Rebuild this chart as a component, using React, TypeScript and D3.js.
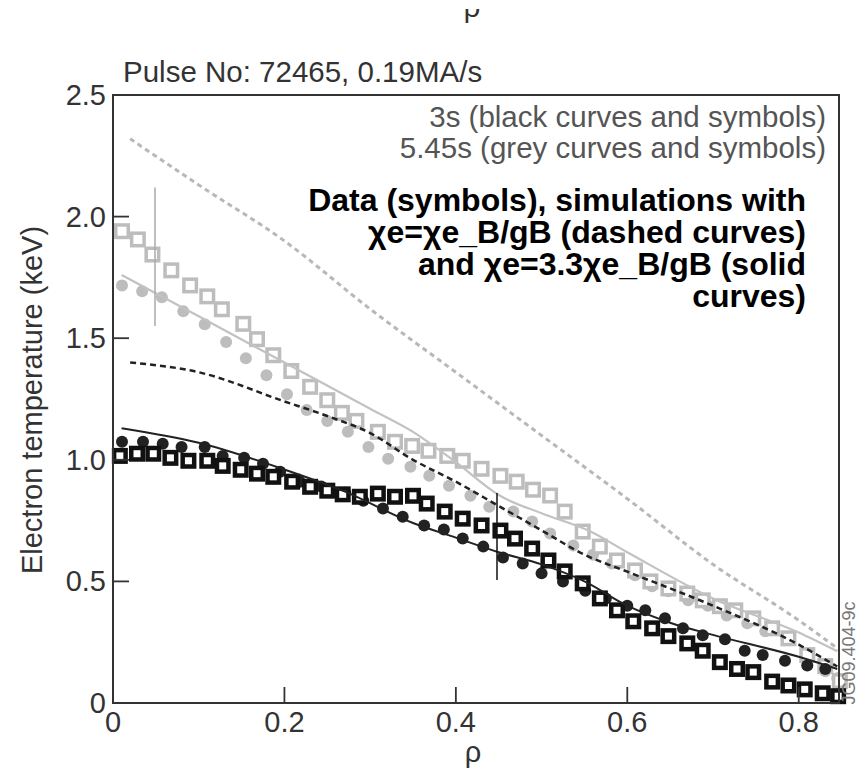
import React from "react";
import * as d3 from "d3";

// ---- data ----
const xTicks = [0, 0.2, 0.4, 0.6, 0.8];
const yTicks = [0, 0.5, 1.0, 1.5, 2.0, 2.5];
const yTickLabels = ["0", "0.5", "1.0", "1.5", "2.0", "2.5"];

// 5.45 s data, open squares (grey)
const greySqRho = [0.0105,0.029,0.046,0.068,0.09,0.11,0.127,0.152,0.168,0.187,0.208,0.23,0.25,0.267,0.284,0.309,0.329,0.349,0.368,0.39,0.408,0.43,0.452,0.471,0.49,0.51,0.527,0.548,0.568,0.588,0.609,0.627,0.648,0.67,0.688,0.708,0.726,0.747,0.769,0.788,0.81,0.831,0.848];
const greySqTe = [1.94,1.906,1.844,1.779,1.717,1.672,1.619,1.559,1.496,1.43,1.365,1.30,1.245,1.193,1.16,1.115,1.074,1.057,1.037,1.016,0.996,0.963,0.934,0.91,0.877,0.853,0.787,0.705,0.643,0.586,0.545,0.5,0.471,0.45,0.422,0.398,0.381,0.348,0.307,0.266,0.197,0.152,0.09];

// 5.45 s data, filled circles (grey)
const greyCiRho = [0.0105,0.034,0.057,0.082,0.107,0.132,0.155,0.179,0.203,0.226,0.25,0.274,0.298,0.321,0.347,0.369,0.392,0.417,0.439,0.467,0.489,0.51,0.537,0.56,0.582,0.609,0.629,0.648,0.671,0.694,0.716,0.74,0.761,0.786,0.81,0.831,0.845];
const greyCiTe = [1.717,1.693,1.668,1.611,1.557,1.484,1.418,1.348,1.27,1.205,1.16,1.115,1.053,1.004,0.971,0.934,0.893,0.852,0.807,0.787,0.746,0.697,0.648,0.61,0.574,0.525,0.48,0.459,0.422,0.40,0.36,0.328,0.295,0.266,0.156,0.131,0.102];

// 3 s data, open squares (black)
const blackSqRho = [0.008,0.028,0.047,0.067,0.088,0.11,0.128,0.149,0.168,0.187,0.209,0.23,0.25,0.268,0.288,0.309,0.329,0.35,0.366,0.387,0.408,0.43,0.452,0.469,0.489,0.508,0.527,0.548,0.568,0.588,0.607,0.629,0.648,0.67,0.688,0.708,0.728,0.747,0.769,0.788,0.807,0.828,0.846];
const blackSqTe = [1.016,1.025,1.025,1.008,0.996,0.996,0.975,0.959,0.943,0.93,0.91,0.889,0.873,0.858,0.848,0.861,0.848,0.852,0.82,0.787,0.758,0.73,0.709,0.676,0.635,0.586,0.541,0.492,0.43,0.381,0.336,0.307,0.275,0.245,0.215,0.168,0.14,0.127,0.088,0.072,0.056,0.04,0.028];

// 3 s data, filled circles (black)
const blackCiRho = [0.0105,0.035,0.058,0.08,0.107,0.128,0.153,0.175,0.195,0.218,0.243,0.271,0.292,0.315,0.338,0.363,0.386,0.408,0.432,0.455,0.478,0.5,0.525,0.551,0.575,0.6,0.621,0.644,0.665,0.688,0.714,0.737,0.758,0.784,0.81,0.831];
const blackCiTe = [1.074,1.074,1.066,1.053,1.053,1.016,1.008,0.984,0.951,0.91,0.89,0.865,0.832,0.80,0.766,0.73,0.713,0.676,0.643,0.598,0.574,0.533,0.50,0.462,0.43,0.40,0.381,0.348,0.307,0.279,0.262,0.215,0.197,0.174,0.154,0.14];

// simulations
const greyDashRho = [0.02,0.1,0.2,0.3,0.4,0.5,0.6,0.7,0.8,0.847];
const greyDashTe = [2.32,2.13,1.90,1.62,1.36,1.10,0.84,0.57,0.34,0.22];
const blackDashRho = [0.02,0.1,0.2,0.25,0.3,0.35,0.4,0.45,0.5,0.55,0.6,0.7,0.8,0.845];
const blackDashTe = [1.40,1.36,1.24,1.18,1.11,1.00,0.91,0.81,0.71,0.61,0.54,0.40,0.24,0.15];
const greySolidRho = [0.01,0.1,0.2,0.3,0.35,0.4,0.45,0.5,0.557,0.6,0.7,0.8,0.845];
const greySolidTe = [1.76,1.59,1.40,1.21,1.115,0.99,0.855,0.78,0.705,0.62,0.43,0.29,0.213];
const blackSolidRho = [0.01,0.1,0.2,0.27,0.35,0.4,0.45,0.5,0.55,0.6,0.65,0.7,0.8,0.845];
const blackSolidTe = [1.13,1.07,0.96,0.87,0.74,0.68,0.62,0.57,0.50,0.40,0.33,0.28,0.19,0.14];

// error bars [rho, low, high]
const greyErr = [0.049, 1.55, 2.12];
const blackErr = [0.448, 0.506, 0.864];

const FONT = "'Liberation Sans', Arial, Helvetica, sans-serif";
const GREY = "#bdbdbd";
const BLACK = "#111111";

export default function App() {
  const W = 858, H = 772;
  const x = d3.scaleLinear().domain([0, 0.847]).range([113, 839]);
  const y = d3.scaleLinear().domain([0, 2.5]).range([703, 95]);
  const zip = (a: number[], b: number[]) => a.map((v, i) => [v, b[i]] as [number, number]);
  const line = d3.line<[number, number]>().x(d => x(d[0])).y(d => y(d[1])).curve(d3.curveMonotoneX);

  const sq = (rho: number[], te: number[], color: string, sw: number, key: string) => {
    const s = 16 - sw;
    return zip(rho, te).map((d, i) => (
      <rect key={key + i} x={x(d[0]) - s / 2} y={y(d[1]) - s / 2} width={s} height={s}
        fill="#fff" stroke={color} strokeWidth={sw} />
    ));
  };
  const ci = (rho: number[], te: number[], color: string, r: number, key: string) =>
    zip(rho, te).map((d, i) => <circle key={key + i} cx={x(d[0])} cy={y(d[1])} r={r} fill={color} />);

  const left = x(0), right = x(0.847), top = y(2.5), bottom = y(0);

  return (
    <svg width={W} height={H} style={{ position: "absolute", left: 0, top: 0, background: "#fff" }}
      fontFamily={FONT}>
      <defs>
        <clipPath id="topclip"><rect x={0} y={9} width={W} height={H} /></clipPath>
      </defs>
      <rect x={0} y={0} width={W} height={H} fill="#fff" />
      <g clipPath="url(#topclip)">
        <text x={472} y={17} fontSize={29} textAnchor="middle" fill="#333">ρ</text>
      </g>

      <text x={123} y={82} fontSize={29.5} fill="#333">Pulse No: 72465, 0.19MA/s</text>

      {/* symbols */}
      {ci(greyCiRho, greyCiTe, GREY, 6, "gc")}
      {sq(greySqRho, greySqTe, GREY, 3.5, "gs")}
      {ci(blackCiRho, blackCiTe, "#222", 6, "bc")}
      {sq(blackSqRho, blackSqTe, BLACK, 4.5, "bs")}

      {/* simulation curves */}
      <path d={line(zip(greyDashRho, greyDashTe)) || ""} fill="none" stroke="#b8b8b8" strokeWidth={3} strokeDasharray="5 4" />
      <path d={line(zip(greySolidRho, greySolidTe)) || ""} fill="none" stroke="#c2c2c2" strokeWidth={2.2} />
      <path d={line(zip(blackDashRho, blackDashTe)) || ""} fill="none" stroke="#222" strokeWidth={2.5} strokeDasharray="6 4" />
      <path d={line(zip(blackSolidRho, blackSolidTe)) || ""} fill="none" stroke="#222" strokeWidth={2} />

      {/* error bars */}
      <line x1={x(greyErr[0])} x2={x(greyErr[0])} y1={y(greyErr[1])} y2={y(greyErr[2])} stroke="#aaa" strokeWidth={1.5} />
      <line x1={x(blackErr[0])} x2={x(blackErr[0])} y1={y(blackErr[1])} y2={y(blackErr[2])} stroke="#111" strokeWidth={1.5} />

      {/* frame */}
      <rect x={left} y={top} width={right - left} height={bottom - top} fill="none" stroke="#333" strokeWidth={2} />

      {/* ticks */}
      {xTicks.map(t => (
        <g key={"xt" + t}>
          <line x1={x(t)} x2={x(t)} y1={bottom} y2={bottom - 16} stroke="#333" strokeWidth={1.8} />
          <text x={x(t)} y={bottom + 29} fontSize={29} textAnchor="middle" fill="#333">{t === 0 ? "0" : t.toFixed(1)}</text>
        </g>
      ))}
      {yTicks.map((t, i) => (
        <g key={"yt" + t}>
          <line x1={left} x2={left + 16} y1={y(t)} y2={y(t)} stroke="#333" strokeWidth={1.8} />
          <text x={106} y={y(t) + 10} fontSize={29} textAnchor="end" fill="#333">{yTickLabels[i]}</text>
        </g>
      ))}

      <text x={473} y={762} fontSize={29} textAnchor="middle" fill="#333">ρ</text>
      <text transform={`translate(42,400) rotate(-90)`} fontSize={29} textAnchor="middle" fill="#333">Electron temperature (keV)</text>

      {/* legend */}
      <text x={826} y={127} fontSize={29.5} textAnchor="end" fill="#555">3s (black curves and symbols)</text>
      <text x={826} y={158} fontSize={29.5} textAnchor="end" fill="#555">5.45s (grey curves and symbols)</text>
      <g fontWeight="bold" fontSize={32} fill="#000" textAnchor="end">
        <text x={806} y={211}>Data (symbols), simulations with</text>
        <text x={806} y={243}>χe=χe_B/gB (dashed curves)</text>
        <text x={806} y={275}>and χe=3.3χe_B/gB (solid</text>
        <text x={806} y={307}>curves)</text>
      </g>

      <text transform={`translate(855,653) rotate(-90)`} fontSize={18} textAnchor="middle" fill="#777">JG09.404-9c</text>
    </svg>
  );
}
